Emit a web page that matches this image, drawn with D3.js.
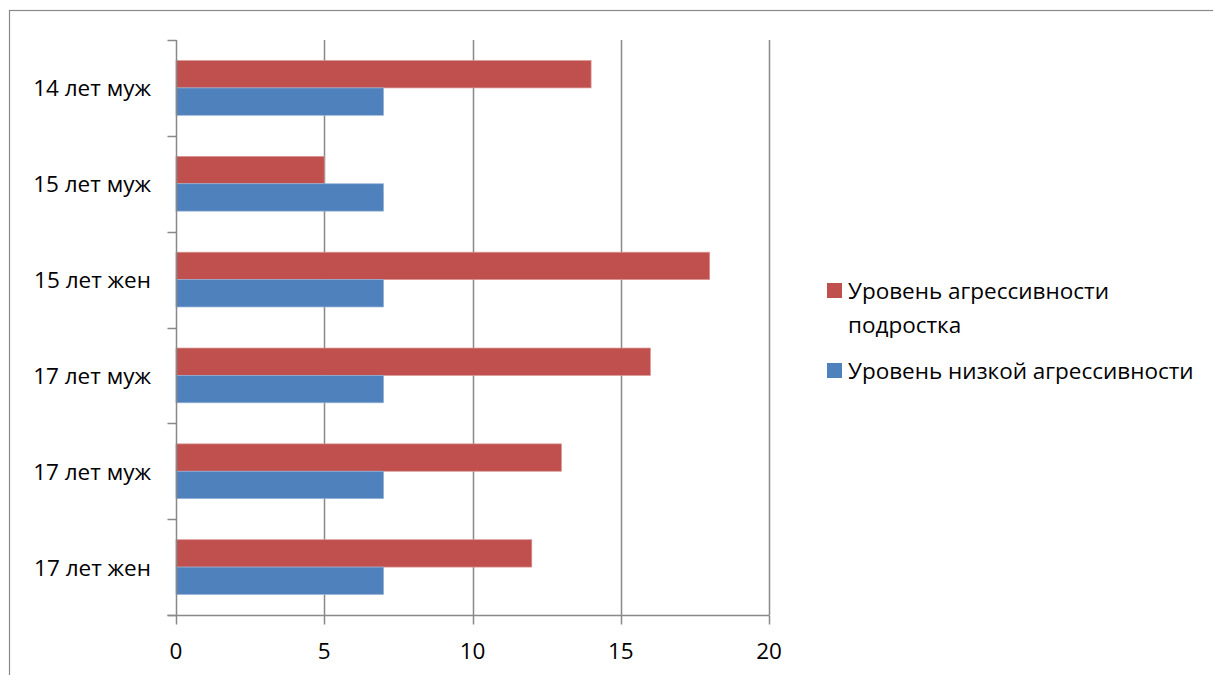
<!DOCTYPE html>
<html>
<head>
<meta charset="utf-8">
<script src="https://cdn.jsdelivr.net/npm/d3@7"></script>
<style>
  html, body { margin: 0; padding: 0; background: #fff; }
  svg { display: block; }
  text { font-family: "Open Sans", "Liberation Sans", sans-serif; fill: #000; }
</style>
</head>
<body>
<svg id="chart" width="1213" height="675"></svg>
<script>
// Categories, top to bottom
const categories = ["14 лет муж", "15 лет муж", "15 лет жен", "17 лет муж", "17 лет муж", "17 лет жен"];
// Series values
const aggressionLevel = [14, 5, 18, 16, 13, 12];
const lowAggression = [7, 7, 7, 7, 7, 7];
const seriesNames = ["Уровень агрессивности подростка", "Уровень низкой агрессивности"];
const xTicks = [0, 5, 10, 15, 20];

const svg = d3.select("#chart");
const gridColor = "#898989";
const colors = ["#C0504D", "#4F81BD"];
const edgeColors = ["#D99694", "#95B3D7"];
const fontSize = 22.5;

// Outer frame
svg.append("rect")
  .attr("x", 9.5).attr("y", 10.5)
  .attr("width", 1300).attr("height", 700)
  .attr("fill", "none").attr("stroke", gridColor).attr("stroke-width", 1.2);

const plot = { left: 176, right: 769, top: 40, bottom: 615 };

const x = d3.scaleLinear().domain([0, 20]).range([plot.left, plot.right]);
const y = d3.scaleBand().domain(d3.range(categories.length))
  .range([plot.top, plot.bottom]).paddingInner(0).paddingOuter(0);

const g = svg.append("g");

// Vertical gridlines
g.selectAll("line.grid").data(xTicks.filter(t => t > 0)).join("line")
  .attr("class", "grid")
  .attr("x1", d => Math.round(x(d)) + 0.5).attr("x2", d => Math.round(x(d)) + 0.5)
  .attr("y1", plot.top).attr("y2", plot.bottom)
  .attr("stroke", gridColor).attr("stroke-width", 1.5);

// Bars: each category band holds two bars (gap width 150%)
const band = y.bandwidth();
const barH = band / 3.5;
const gap = (band - 2 * barH) / 2;

categories.forEach((c, i) => {
  const y0 = y(i) + gap;
  g.append("rect")
    .attr("x", x(0)).attr("y", y0)
    .attr("width", x(aggressionLevel[i]) - x(0)).attr("height", barH)
    .attr("fill", colors[0]).attr("stroke", edgeColors[0]).attr("stroke-width", 0.7);
  g.append("rect")
    .attr("x", x(0)).attr("y", y0 + barH)
    .attr("width", x(lowAggression[i]) - x(0)).attr("height", barH)
    .attr("fill", colors[1]).attr("stroke", edgeColors[1]).attr("stroke-width", 0.7);
});

// Y axis line and ticks
const xa = Math.round(x(0)) + 0.5;
g.append("line")
  .attr("x1", xa).attr("x2", xa).attr("y1", plot.top).attr("y2", plot.bottom)
  .attr("stroke", gridColor).attr("stroke-width", 1.5);
g.selectAll("line.ytick").data(d3.range(categories.length + 1)).join("line")
  .attr("class", "ytick")
  .attr("x1", xa - 9).attr("x2", xa)
  .attr("y1", d => Math.round(plot.top + d * band) + 0.5)
  .attr("y2", d => Math.round(plot.top + d * band) + 0.5)
  .attr("stroke", gridColor).attr("stroke-width", 1.5);

// Category labels
g.selectAll("text.ylab").data(categories).join("text")
  .attr("class", "ylab")
  .attr("x", 151).attr("y", (d, i) => y(i) + band / 2)
  .attr("text-anchor", "end").attr("dominant-baseline", "central")
  .attr("font-size", fontSize)
  .text(d => d);

// X axis line, ticks and labels
const ya = Math.round(plot.bottom) + 0.5;
g.append("line")
  .attr("x1", xa - 9).attr("x2", Math.round(x(20)) + 0.5).attr("y1", ya).attr("y2", ya)
  .attr("stroke", gridColor).attr("stroke-width", 1.5);
g.selectAll("line.xtick").data(xTicks).join("line")
  .attr("class", "xtick")
  .attr("x1", d => Math.round(x(d)) + 0.5).attr("x2", d => Math.round(x(d)) + 0.5)
  .attr("y1", ya).attr("y2", ya + 9)
  .attr("stroke", gridColor).attr("stroke-width", 1.5);
g.selectAll("text.xlab").data(xTicks).join("text")
  .attr("class", "xlab")
  .attr("x", d => x(d)).attr("y", 650)
  .attr("text-anchor", "middle").attr("dominant-baseline", "central")
  .attr("font-size", fontSize)
  .text(d => d);

// Legend
const legend = svg.append("g");
const legendItems = [
  { color: colors[0], lines: ["Уровень агрессивности", "подростка"], y: 290 },
  { color: colors[1], lines: ["Уровень низкой агрессивности"], y: 370 }
];
legendItems.forEach(it => {
  legend.append("rect")
    .attr("x", 827).attr("y", it.y - 7).attr("width", 15).attr("height", 15)
    .attr("fill", it.color);
  it.lines.forEach((ln, k) => {
    legend.append("text")
      .attr("x", 848).attr("y", it.y + k * 34)
      .attr("dominant-baseline", "central")
      .attr("font-size", fontSize)
      .text(ln);
  });
});
</script>
</body>
</html>
